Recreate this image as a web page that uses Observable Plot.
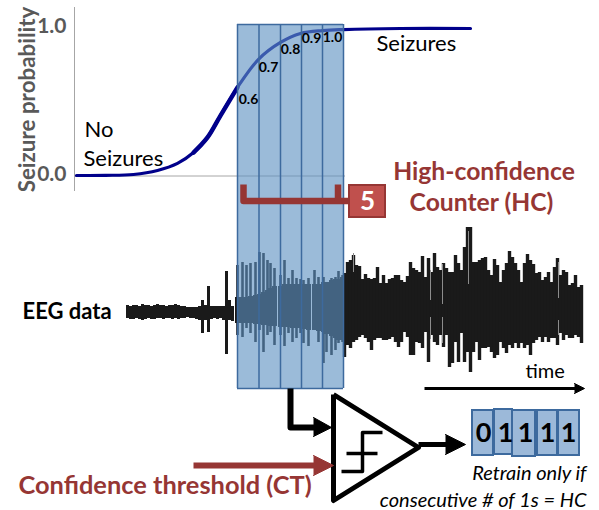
<!DOCTYPE html>
<html><head><meta charset="utf-8">
<style>html,body{margin:0;padding:0;background:#fff}svg{display:block}</style>
<script src="https://cdn.jsdelivr.net/npm/d3@7"></script>
<script src="https://cdn.jsdelivr.net/npm/@observablehq/plot@0.6"></script>
</head><body><script>
const FONT = "Lato, 'Open Sans', sans-serif";
const BROWN = "#963634", NAVY = "#00008b", GREY = "#595959", CELL = "#9cb9d9", EDGE = "#3d6a9e", INK = "#1a1a1a";

// sigmoid: horizontal position / seizure probability
const curveX = [76,105,133,157,177,193,207,220,237,258,280,300,322,343,400,470];
const curveP = [0,0.001,0.007,0.034,0.082,0.156,0.259,0.408,0.6,0.79,0.905,0.966,0.986,0.993,1,1];
const yZero = 175, yOne = 28;
const probY = p => yZero - p * (yZero - yOne);

// EEG trace: amplitude above / below the baseline
const eegBase = 312;
const leftStart = 127, rightStart = 344, colStep = 3;
const leftUp = [7,6,7,7,6,8,7,7,6,7,8,7,7,6,7,7,8,7,6,6,5,5,5,5,6,12,7,26,6,6,6,6,6,41,12,6];
const leftDown = [6,7,7,6,7,8,7,6,7,7,6,6,7,6,6,7,6,7,6,6,5,6,6,7,8,21,8,20,7,6,7,6,8,42,8,9];
const midX = [237,242,246,250,255,259,263,267,270,274,280,284,288,292,296,300,303,308,314,318,323,326,331,335,338,342];
const midUp = [47,50,47,49,50,60,59,52,49,44,37,52,34,42,34,33,32,34,42,35,35,29,34,35,41,37];
const midDown = [23,25,16,21,30,18,40,23,20,33,23,34,21,30,26,21,31,34,18,30,51,40,43,38,31,30];
const midBandUp = [15,15,15,16,17,18,20,22,24,26,26,28,28,28,28,28,28,28,28,28,30,30,32,33,33,35];
const midBandDown = [11,11,11,11,12,12,13,13,14,14,15,15,15,16,16,16,17,18,18,19,20,22,24,26,28,28];
const rightUp = [39,50,52,57,47,46,33,38,34,33,34,45,29,37,29,33,34,37,37,32,30,36,50,44,42,40,56,35,54,40,59,45,42,49,44,40,40,57,49,42,65,85,85,50,50,52,54,55,42,37,53,47,30,42,49,61,55,49,42,30,49,58,52,48,39,40,32,35,40,30,45,54,37,42,40,27,29,37,25,27];
const rightDown = [45,33,36,30,28,25,23,26,30,38,28,26,26,28,28,27,25,30,35,30,20,25,43,43,30,31,36,20,50,23,30,33,23,35,23,55,51,30,50,21,50,40,60,40,30,48,36,36,35,40,46,43,30,36,41,33,36,31,36,31,36,33,43,31,28,25,30,25,30,26,26,33,21,28,23,26,26,23,25,31];
const leftX = leftUp.map((_, i) => leftStart + i * colStep);
const rightX = rightUp.map((_, i) => rightStart + i * colStep);
// pale slits showing through the right part of the trace
const slitX = [353,430,442,468,558];
const slitTop = [253,270,264,231,262];
const slitBottom = [272,300,304,284,298];
const slitLowTop = [0,317,317,0,320];
const slitLowBottom = [0,339,343,0,335];

// blue windows over curve and EEG
const windowEdges = [237,258.5,280,301,322,343];
const windowTop = 24, windowBottom = 388;

// output register
const regLeft = [472,494,512,537,558];
const regRight = [493,512,535,557,579];
const regTop = [410,409,410,410,410];
const regBottom = [455,454,456,455,455];
const regBits = ["0","1","1","1","1"];
const regBitX = [483,505,525,547,568];

// on-curve thresholds
const thrText = ["0.6","0.7","0.8","0.9","1.0"];
const thrX = [248,268,290,311,332];
const thrY = [99,67,49,38,37];

const paths = [
  {id:"elbow", pts:[[290,388],[290,427],[316,427]], c:"#000", w:6},
  {id:"comparator", pts:[[333,394],[418,447],[333,500],[333,394]], c:"#000", w:5},
  {id:"hystUp", pts:[[341,471],[362,471],[362,432],[382,432]], c:"#000", w:3.5},
  {id:"hystCross", pts:[[346,453],[377,453]], c:"#000", w:3.5},
  {id:"out", pts:[[418,444],[446,444]], c:"#000", w:5},
  {id:"ct", pts:[[193,465],[315,465]], c:BROWN, w:6},
  {id:"time", pts:[[424,388],[576,388]], c:"#000", w:3},
  {id:"bracket", pts:[[243,184],[243,200.5],[349,200.5]], c:BROWN, w:6.5},
  {id:"bracketTick", pts:[[337.5,184],[337.5,200]], c:BROWN, w:6.5}
];
const heads = [
  {id:"h1", pts:[[313,417],[331,427],[313,436]], c:"#000"},
  {id:"h2", pts:[[445,434],[465,444],[445,454]], c:"#000"},
  {id:"h3", pts:[[313,455],[333,465],[313,475]], c:BROWN},
  {id:"h4", pts:[[574,383],[584,388],[574,393]], c:"#000"}
];
const pathRows = paths.flatMap(p => p.pts.map(([x,y]) => ({id:p.id,x,y,c:p.c,w:p.w})));
const headRows = heads.flatMap(p => p.pts.map(([x,y]) => ({id:p.id,x,y,c:p.c})));

const labels = [
  {t:"Seizure probability", x:27, y:99, s:22.4, w:700, c:GREY, r:-90, a:"middle"},
  {t:"1.0", x:66, y:26, s:21, w:700, c:GREY, a:"end"},
  {t:"0.0", x:66, y:174, s:21, w:700, c:GREY, a:"end"},
  {t:"No", x:84, y:129, s:22, c:"#000", a:"start"},
  {t:"Seizures", x:83, y:158, s:22, c:"#000", a:"start"},
  {t:"Seizures", x:376, y:43, s:22, c:"#000", a:"start"},
  {t:"High-confidence", x:483.5, y:172, s:24.7, w:700, c:BROWN, a:"middle"},
  {t:"Counter (HC)", x:481, y:203, s:24.7, w:700, c:BROWN, a:"middle"},
  {t:"EEG data", x:22, y:311, s:22, w:700, c:"#000", a:"start"},
  {t:"time", x:525, y:371, s:20, c:"#000", a:"start"},
  {t:"Confidence threshold (CT)", x:18, y:485, s:25.4, w:700, c:BROWN, a:"start"},
  {t:"Retrain only if", x:586, y:473, s:20, st:"italic", c:"#000", a:"end"},
  {t:"consecutive # of 1s = HC", x:586, y:500, s:20, st:"italic", c:"#000", a:"end"}
];
const txt = (d) => Plot.text([d], {x:"x", y:"y", text:"t", fontSize:d.s, fontWeight:d.w||400, fontStyle:d.st||"normal",
  fill:d.c, textAnchor:d.a, rotate:d.r||0, fontFamily:FONT, lineAnchor:"middle"});
const curveRows = curveX.map((x,i)=>({x,y:probY(curveP[i])}));

const chart = Plot.plot({
  width:599, height:510, margin:0,
  x:{domain:[0,599], range:[0,599], axis:null},
  y:{domain:[0,510], range:[0,510], axis:null},
  style:{background:"#fff", fontFamily:FONT},
  marks:[
    // axes
    Plot.ruleX([74], {y1:7, y2:191, stroke:"#a6a6a6", strokeWidth:1}),
    Plot.ruleY([175.5], {x1:75, x2:345, stroke:"#a6a6a6", strokeWidth:1}),
    // sigmoid, heavier on its steep part
    Plot.line(curveRows, {x:"x", y:"y", stroke:NAVY, strokeWidth:3.2, curve:"catmull-rom"}),
    Plot.line(curveRows.slice(5,9), {x:"x", y:"y", stroke:NAVY, strokeWidth:4.4, curve:"catmull-rom"}),
    // EEG
    Plot.ruleX(leftX.map((x,i)=>({x,a:eegBase-leftUp[i],b:eegBase+leftDown[i]})), {x:"x", y1:"a", y2:"b", stroke:INK, strokeWidth:3}),
    Plot.ruleX(midX.map((x,i)=>({x,a:eegBase-midBandUp[i],b:eegBase+midBandDown[i]})), {x:"x", y1:"a", y2:"b", stroke:INK, strokeWidth:5}),
    Plot.ruleX(midX.map((x,i)=>({x,a:eegBase-midUp[i],b:eegBase+midDown[i]})), {x:"x", y1:"a", y2:"b", stroke:INK, strokeWidth:2.6}),
    Plot.ruleX(rightX.map((x,i)=>({x,a:eegBase-rightUp[i],b:eegBase+rightDown[i]})), {x:"x", y1:"a", y2:"b", stroke:INK, strokeWidth:3.4}),
    Plot.ruleX(slitX.map((x,i)=>({x,a:slitTop[i],b:slitBottom[i]})), {x:"x", y1:"a", y2:"b", stroke:"#8c8c8c", strokeWidth:1}),
    Plot.ruleX(slitX.map((x,i)=>({x,a:slitLowTop[i],b:slitLowBottom[i]})).filter(d=>d.a>0), {x:"x", y1:"a", y2:"b", stroke:"#8c8c8c", strokeWidth:1}),
    // blue window
    Plot.rect([0], {x1:windowEdges[0], x2:windowEdges[5], y1:windowTop, y2:windowBottom, fill:"#5e92c2", fillOpacity:0.62}),
    Plot.ruleX(windowEdges, {y1:windowTop, y2:windowBottom, stroke:EDGE, strokeWidth:1.5}),
    Plot.ruleY([windowTop, windowBottom], {x1:windowEdges[0], x2:windowEdges[5], stroke:EDGE, strokeWidth:1.5}),
    // threshold labels
    Plot.text(thrText, {x:(_,i)=>thrX[i], y:(_,i)=>thrY[i], text:d=>d, fontSize:14, fontWeight:700, fill:"#000", fontFamily:FONT, lineAnchor:"middle"}),
    // connectors
    Plot.line(pathRows, {x:"x", y:"y", z:"id", stroke:"c", strokeWidth:"w", strokeLinejoin:"round", strokeLinecap:"butt"}),
    Plot.line(headRows, {x:"x", y:"y", z:"id", fill:"c", stroke:"c", strokeWidth:1}),
    // counter box
    Plot.rect([0], {x1:349, x2:385, y1:185, y2:217, fill:"#c0504d", stroke:BROWN, strokeWidth:2}),
    Plot.text(["5"], {x:367, y:201, text:d=>d, fontSize:26, fontWeight:700, fill:"#fff", fontFamily:FONT, lineAnchor:"middle"}),
    // register
    Plot.rect(regBits, {x1:(_,i)=>regLeft[i], x2:(_,i)=>regRight[i], y1:(_,i)=>regTop[i], y2:(_,i)=>regBottom[i], fill:CELL, stroke:EDGE, strokeWidth:2}),
    Plot.text(regBits, {x:(_,i)=>regBitX[i], y:433, text:d=>d, fontSize:27, fontWeight:700, fill:"#000", fontFamily:FONT, lineAnchor:"middle"}),
    ...labels.map(txt)
  ]
});
document.body.appendChild(chart);
</script></body></html>
